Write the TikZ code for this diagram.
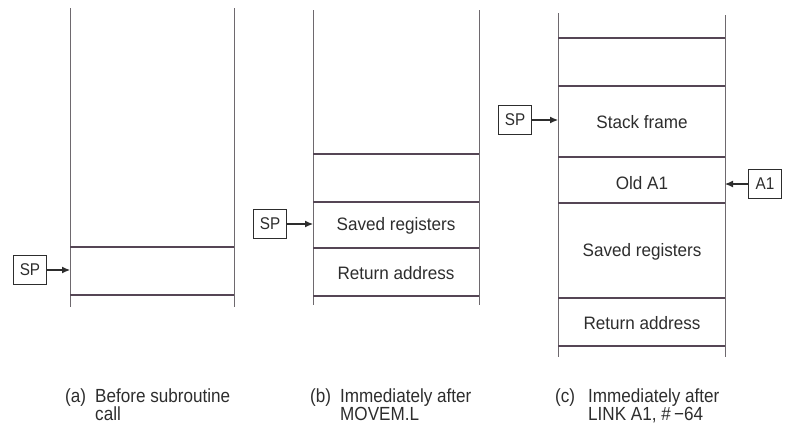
\documentclass[tikz,border=0pt]{standalone}
\usepackage{fontspec}
\setmainfont{Liberation Sans}
\newfontfamily\capfont[FakeStretch=0.9]{Liberation Sans}
\newfontfamily\cellfont[FakeStretch=0.95]{Liberation Sans}
\newcommand\mycapsetup{\capfont\fontsize{19}{17.5}\selectfont\lineskiplimit=-20pt\relax}
\usetikzlibrary{arrows.meta}
\definecolor{vline}{RGB}{110,105,110}
\definecolor{hline}{RGB}{85,70,85}
\definecolor{txt}{RGB}{45,45,45}
\begin{document}
\begin{tikzpicture}[x=1pt,y=-1pt,
  vertline/.style={draw=vline,line width=1pt},
  horzline/.style={draw=hline,line width=1.1pt},
  regbox/.style={draw=txt,line width=1.5pt,inner sep=0pt,minimum width=33pt,minimum height=29pt,font=\capfont\fontsize{17}{17}\selectfont,text=txt},
  celltxt/.style={font=\cellfont\fontsize{18}{18}\selectfont,text=txt,inner sep=0pt},
  captxt/.style={font=\mycapsetup,text=txt,inner sep=0pt,anchor=north west,align=left},
  ptrarrow/.style={draw=txt,line width=1.1pt,-{Latex[length=8pt,width=7pt]}}]
\useasboundingbox (0,0) rectangle (793,432);
% ---------- (a)
\draw[vertline] (70,8) -- (70,307);
\draw[vertline] (234,8) -- (234,307);
\draw[horzline] (70,247) -- (234,247);
\draw[horzline] (70,295) -- (234,295);
\node[regbox] (spa) at (30,270) {SP};
\coordinate (ta) at (70,270);
\draw[ptrarrow] (spa) -- (ta);
% ---------- (b)
\draw[vertline] (313,10) -- (313,305);
\draw[vertline] (479,10) -- (479,305);
\foreach \y in {154,202,248,296} \draw[horzline] (313,\y) -- (479,\y);
\node[celltxt] (b1) at (396,226) {Saved registers};
\node[celltxt] (b2) at (396,273) {Return address};
\node[regbox] (spb) at (270,224) {SP};
\coordinate (tb) at (313,224);
\draw[ptrarrow] (spb) -- (tb);
% ---------- (c)
\draw[vertline] (558,13) -- (558,357);
\draw[vertline] (725,15) -- (725,357);
\foreach \y in {38,86,157,203,298,346} \draw[horzline] (558,\y) -- (725,\y);
\node[celltxt] (c1) at (642,122) {Stack frame};
\node[celltxt] (c2) at (642,183) {Old A1};
\node[celltxt] (c3) at (642,252) {Saved registers};
\node[celltxt] (c4) at (642,323) {Return address};
\node[regbox] (spc) at (515,120) {SP};
\coordinate (tc) at (558,120);
\draw[ptrarrow] (spc) -- (tc);
\node[regbox] (a1) at (765,184) {A1};
\coordinate (td) at (725,184);
\draw[ptrarrow] (a1) -- (td);
% ---------- captions
\node[captxt] (ka) at (65,389) {(a)};
\node[captxt] (la) at (95,389) {Before subroutine\\call};
\node[captxt] (kb) at (310,389) {(b)};
\node[captxt] (lb) at (340,389) {Immediately after\\MOVEM.L};
\node[captxt] (kc) at (555,389) {(c)};
\node[captxt] (lc) at (588,389) {Immediately after\\LINK A1, \#\,−64};
\end{tikzpicture}
\end{document}
